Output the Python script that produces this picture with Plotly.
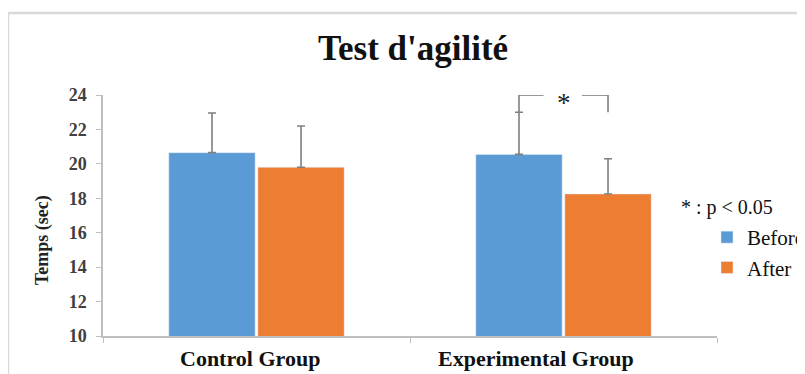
import plotly.graph_objects as go

# ---- data ----
categories = ["Control Group", "Experimental Group"]
before_vals = [20.65, 20.55]
after_vals = [19.8, 18.25]
before_err = [2.3, 2.45]
after_err = [2.4, 2.05]
yticks = [10, 12, 14, 16, 18, 20, 22, 24]

W, H = 805, 374
OFF = 8  # page body margin offset
# target plot area in screen pixels
L, R, T, B = 103, 717, 95, 336
BARGAP = 0.42

def px(x):
    return (x - L) / (R - L)

def py(y):
    return (B - y) / (B - T)

SERIF = "Liberation Serif"
BLUE = "#5B9BD5"
ORANGE = "#ED7D31"
ERR = "#7f7f7f"

fig = go.Figure()
fig.add_trace(go.Bar(
    name="Before", x=categories, y=before_vals, marker_color=BLUE,
    error_y=dict(type="data", symmetric=False, array=before_err,
                 arrayminus=[0] * len(before_err), color=ERR, thickness=1.6, width=4),
))
fig.add_trace(go.Bar(
    name="After", x=categories, y=after_vals, marker_color=ORANGE,
    error_y=dict(type="data", symmetric=False, array=after_err,
                 arrayminus=[0] * len(after_err), color=ERR, thickness=1.6, width=4),
))

# significance bracket over Experimental Group (category index 1)
half = (1 - BARGAP) / 4
xb = 1 - half
xa = 1 + half
ytop = yticks[-1]
line = dict(color=ERR, width=1.6)
fig.add_shape(type="line", xref="x", yref="y", x0=xb, x1=xb, y0=before_vals[1] + before_err[1], y1=ytop, line=line)
fig.add_shape(type="line", xref="x", yref="y", x0=xb, x1=xb + 0.08, y0=ytop, y1=ytop, line=line)
fig.add_shape(type="line", xref="x", yref="y", x0=xa - 0.085, x1=xa, y0=ytop, y1=ytop, line=line)
fig.add_shape(type="line", xref="x", yref="y", x0=xa, x1=xa, y0=ytop, y1=23.0, line=line)
fig.add_annotation(x=1, y=ytop - 0.45, xref="x", yref="y", text="*", showarrow=False,
                   font=dict(family=SERIF, size=27, color="#222222"))

# outer frame
fig.add_shape(type="rect", xref="paper", yref="paper",
              x0=px(8), x1=px(840), y0=py(13), y1=py(420),
              line=dict(color="#d9d9d9", width=2.5), layer="below")

# category labels
for cx, txt in [(250, categories[0]), (536, categories[1])]:
    fig.add_annotation(x=px(cx), y=py(358), xref="paper", yref="paper", text=txt,
                       showarrow=False, xanchor="center", yanchor="middle",
                       font=dict(family=SERIF, size=22, color="#111111", weight="bold"))

# y axis title
fig.add_annotation(x=px(42), y=py(240), xref="paper", yref="paper", text="Temps (sec)",
                   textangle=-90, showarrow=False, xanchor="center", yanchor="middle",
                   font=dict(family=SERIF, size=18, color="#222222", weight="bold"))

# significance note
fig.add_annotation(x=px(679), y=py(207), xref="paper", yref="paper", text="* : p < 0.05",
                   showarrow=False, xanchor="left", yanchor="middle",
                   font=dict(family=SERIF, size=20, color="#111111"))

fig.update_layout(
    width=W, height=H,
    margin=dict(l=L - OFF, r=W - (R - OFF), t=T - OFF, b=H - (B - OFF), autoexpand=False),
    paper_bgcolor="white", plot_bgcolor="white",
    barmode="group", bargap=BARGAP, bargroupgap=0.03,
    title=dict(text="Test d'agilité", x=(413 - OFF) / W, xanchor="center",
               y=1 - (48 - OFF) / H, yanchor="middle",
               font=dict(family=SERIF, size=35, color="#111111", weight="bold")),
    legend=dict(x=px(707), y=py(217), xanchor="left", yanchor="top",
                font=dict(family=SERIF, size=21, color="#111111"),
                bgcolor="rgba(0,0,0,0)", itemwidth=30),
    showlegend=True,
)
fig.update_xaxes(type="category", showticklabels=False, showline=True, linecolor="#bfbfbf",
                 linewidth=1.5, ticks="outside", tickson="boundaries", ticklen=5,
                 tickcolor="#bfbfbf", showgrid=False, zeroline=False)
fig.update_yaxes(range=[yticks[0], yticks[-1]], tickvals=yticks, showline=True,
                 linecolor="#bfbfbf", linewidth=1.5, ticks="outside", ticklen=5,
                 tickcolor="#bfbfbf", showgrid=False, zeroline=False, ticklabelstandoff=6,
                 tickfont=dict(family=SERIF, size=18, color="#404040", weight="bold"))

fig.write_html("out.html")
